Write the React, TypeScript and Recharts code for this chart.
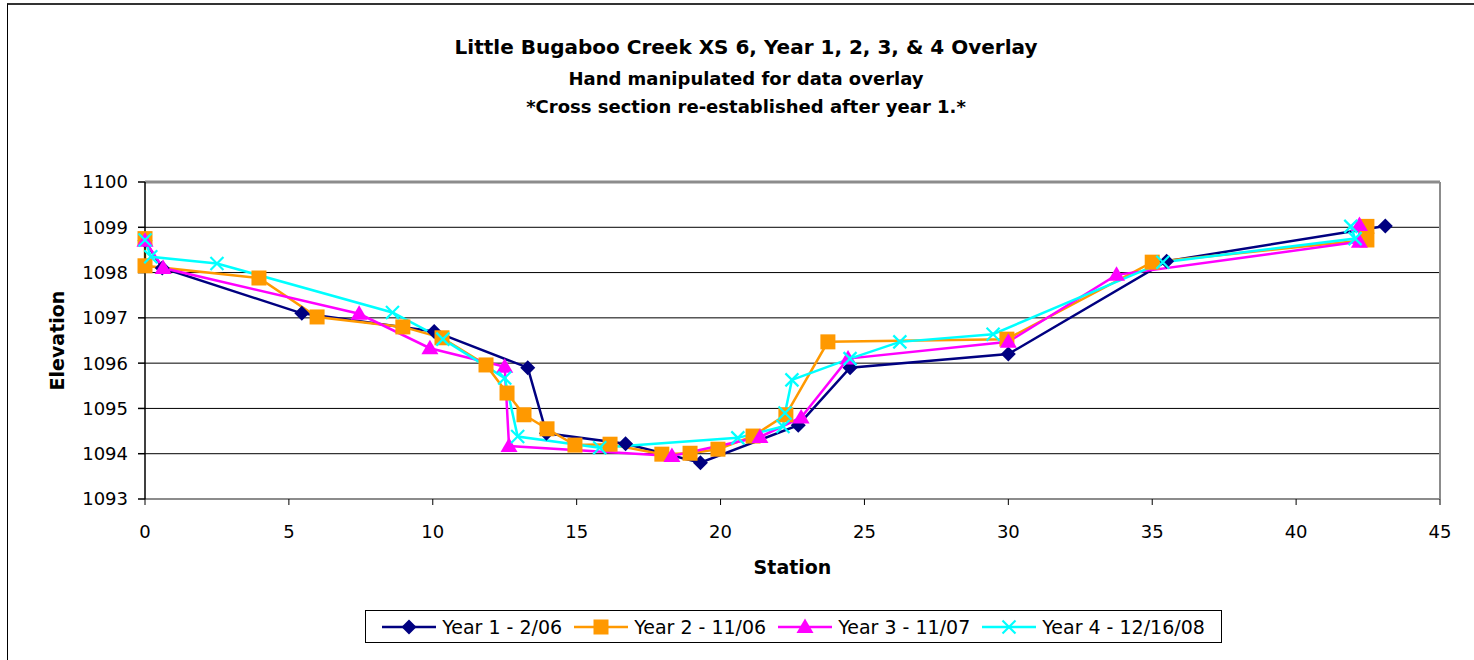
import React from "react";
import {
  LineChart,
  Line,
  XAxis,
  YAxis,
  CartesianGrid,
  ReferenceLine,
} from "recharts";

// station / elevation pairs
const year1Station = [0, 0.6, 5.45, 10.05, 13.3, 13.95, 16.7, 19.3, 22.7, 24.5, 30.0, 35.5, 43.1];
const year1Elevation = [1098.7, 1098.1, 1097.1, 1096.7, 1095.9, 1094.45, 1094.22, 1093.8, 1094.63, 1095.9, 1096.2, 1098.25, 1099.03];

const year2Station = [0, 0, 3.96, 5.98, 8.96, 10.32, 11.85, 12.58, 13.17, 13.97, 14.94, 16.16, 17.96, 18.94, 19.91, 21.13, 22.27, 23.73, 29.95, 35.0, 42.46, 42.46];
const year2Elevation = [1098.75, 1098.15, 1097.88, 1097.02, 1096.8, 1096.56, 1095.96, 1095.34, 1094.86, 1094.55, 1094.19, 1094.21, 1093.99, 1094.01, 1094.1, 1094.39, 1094.86, 1096.47, 1096.53, 1098.23, 1098.72, 1099.02];

const year3Station = [0, 0.63, 7.44, 9.9, 12.5, 12.65, 18.31, 21.37, 22.8, 24.43, 30.0, 33.76, 42.2, 42.2];
const year3Elevation = [1098.7, 1098.1, 1097.09, 1096.33, 1095.92, 1094.17, 1093.95, 1094.37, 1094.8, 1096.1, 1096.47, 1097.95, 1098.68, 1099.05];

const year4Station = [0, 0.2, 2.5, 8.6, 10.35, 12.5, 12.95, 15.8, 20.6, 22.17, 22.24, 22.48, 24.5, 26.23, 29.47, 35.37, 42.05, 41.9];
const year4Elevation = [1098.72, 1098.35, 1098.2, 1097.12, 1096.53, 1095.67, 1094.38, 1094.13, 1094.35, 1094.6, 1094.9, 1095.63, 1096.1, 1096.47, 1096.64, 1098.23, 1098.75, 1099.02];

const stationTicks = [0, 5, 10, 15, 20, 25, 30, 35, 40, 45];
const elevationTicks = [1093, 1094, 1095, 1096, 1097, 1098, 1099, 1100];

type Shape = "diamond" | "square" | "triangle" | "x";

const toPoints = (xs: number[], ys: number[]) =>
  xs.map((x, i) => ({ station: x, elevation: ys[i] }));

const series = [
  { name: "Year 1 - 2/06", color: "#000080", shape: "diamond" as Shape, data: toPoints(year1Station, year1Elevation) },
  { name: "Year 2 - 11/06", color: "#FF9900", shape: "square" as Shape, data: toPoints(year2Station, year2Elevation) },
  { name: "Year 3 - 11/07", color: "#FF00FF", shape: "triangle" as Shape, data: toPoints(year3Station, year3Elevation) },
  { name: "Year 4 - 12/16/08", color: "#00FFFF", shape: "x" as Shape, data: toPoints(year4Station, year4Elevation) },
];

const FONT = "'DejaVu Sans', 'Liberation Sans', Arial, sans-serif";

function Marker({ shape, color, cx, cy }: { shape: Shape; color: string; cx: number; cy: number }) {
  if (cx == null || cy == null) return null;
  switch (shape) {
    case "diamond":
      return <polygon points={`${cx},${cy - 7.5} ${cx + 7.5},${cy} ${cx},${cy + 7.5} ${cx - 7.5},${cy}`} fill={color} />;
    case "square":
      return <rect x={cx - 7.5} y={cy - 7.5} width={15} height={15} fill={color} />;
    case "triangle":
      return <polygon points={`${cx},${cy - 8.5} ${cx + 8.5},${cy + 6} ${cx - 8.5},${cy + 6}`} fill={color} />;
    default:
      return (
        <g stroke={color} strokeWidth={2.2}>
          <line x1={cx - 6.5} y1={cy - 6.5} x2={cx + 6.5} y2={cy + 6.5} />
          <line x1={cx - 6.5} y1={cy + 6.5} x2={cx + 6.5} y2={cy - 6.5} />
        </g>
      );
  }
}

function LegendBox() {
  return (
    <div
      style={{
        position: "absolute",
        left: 365,
        top: 610,
        width: 857,
        height: 33,
        boxSizing: "border-box",
        border: "1px solid #000",
        display: "flex",
        alignItems: "center",
        justifyContent: "center",
        gap: 12,
        fontFamily: FONT,
        fontSize: 19,
        color: "#000",
      }}
    >
      {series.map((s) => (
        <div key={s.name} style={{ display: "flex", alignItems: "center" }}>
          <svg width={54} height={20}>
            <line x1={0} y1={10} x2={54} y2={10} stroke={s.color} strokeWidth={2.5} />
            <Marker shape={s.shape} color={s.color} cx={27} cy={10} />
          </svg>
          <span style={{ marginLeft: 6, whiteSpace: "nowrap" }}>{s.name}</span>
        </div>
      ))}
    </div>
  );
}

export default function App() {
  const titleStyle = (top: number, size: number): React.CSSProperties => ({
    position: "absolute",
    left: 0,
    width: 1492,
    top,
    textAlign: "center",
    fontFamily: FONT,
    fontWeight: "bold",
    fontSize: size,
    lineHeight: `${size}px`,
    color: "#000",
    whiteSpace: "nowrap",
  });

  return (
    <div
      style={{
        position: "absolute",
        left: 0,
        top: 0,
        width: 1474,
        height: 660,
        overflow: "hidden",
        background: "#fff",
      }}
    >
      <div
        style={{
          position: "absolute",
          left: 7,
          top: 3,
          width: 1500,
          height: 720,
          border: "1px solid #000",
          borderTop: "2px solid #333",
        }}
      />
      <div style={titleStyle(37, 20)}>Little Bugaboo Creek XS 6, Year 1, 2, 3, &amp; 4 Overlay</div>
      <div style={titleStyle(70, 18)}>Hand manipulated for data overlay</div>
      <div style={titleStyle(98, 18)}>*Cross section re-established after year 1.*</div>

      <div style={{ position: "absolute", left: 0, top: 0 }}>
        <LineChart width={1474} height={660} margin={{ top: 182, right: 34, bottom: 121, left: 45 }}>
          <CartesianGrid vertical={false} stroke="#000" strokeWidth={1} />
          <XAxis
            type="number"
            dataKey="station"
            domain={[0, 45]}
            ticks={stationTicks}
            allowDuplicatedCategory={false}
            height={40}
            tickSize={6}
            tickMargin={20}
            stroke="#8c8c8c"
            strokeWidth={2}
            tick={{ fill: "#000", fontSize: 18, fontFamily: FONT }}
            tickLine={{ stroke: "#000", strokeWidth: 1 }}
            label={{
              value: "Station",
              position: "bottom",
              offset: 22,
              style: { fill: "#000", fontSize: 19, fontWeight: "bold", fontFamily: FONT },
            }}
          />
          <YAxis
            type="number"
            dataKey="elevation"
            domain={[1093, 1100]}
            ticks={elevationTicks}
            width={100}
            tickSize={7}
            tickMargin={10}
            stroke="#000"
            strokeWidth={1.5}
            tick={{ fill: "#000", fontSize: 18, fontFamily: FONT }}
            label={{
              content: ({ viewBox }: any) => {
                const cx = viewBox.x + 12;
                const cy = viewBox.y + viewBox.height / 2;
                return (
                  <text
                    x={cx}
                    y={cy}
                    transform={`rotate(-90 ${cx} ${cy})`}
                    textAnchor="middle"
                    dominantBaseline="central"
                    style={{ fill: "#000", fontSize: 19, fontWeight: "bold", fontFamily: FONT }}
                  >
                    Elevation
                  </text>
                );
              },
            }}
          />
          <ReferenceLine y={1100} stroke="#8c8c8c" strokeWidth={3} />
          <ReferenceLine x={45} stroke="#8c8c8c" strokeWidth={2} />
          {series.map((s) => (
            <Line
              key={s.name}
              data={s.data}
              dataKey="elevation"
              name={s.name}
              type="linear"
              stroke={s.color}
              strokeWidth={2.5}
              isAnimationActive={false}
              activeDot={false}
              dot={(p: any) => (
                <Marker key={`${s.name}-${p.index}`} shape={s.shape} color={s.color} cx={p.cx} cy={p.cy} />
              )}
            />
          ))}
        </LineChart>
      </div>

      <LegendBox />
    </div>
  );
}
